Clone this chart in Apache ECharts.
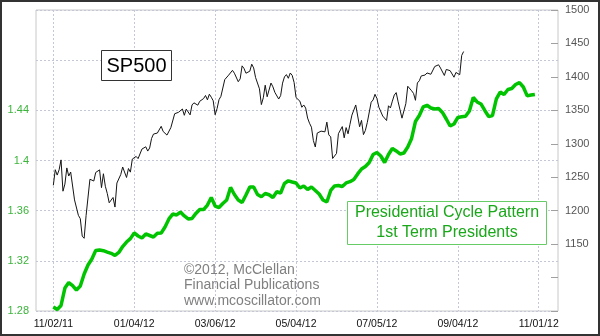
<!DOCTYPE html>
<html>
<head>
<meta charset="utf-8">
<script src="https://cdn.jsdelivr.net/npm/echarts@6/dist/echarts.min.js"></script>
<style>
  html, body { margin: 0; padding: 0; background: #fff; }
  #chart { width: 600px; height: 336px; }
</style>
</head>
<body>
<div id="chart"></div>
<script>
// Date labels shown along the bottom, one every 42 trading days from 11/02/11
const tickLabels = ['11/02/11', '01/04/12', '03/06/12', '05/04/12', '07/05/12', '09/04/12', '11/01/12'];
const labelStep = 42;
// Trading-day slots covered by the plot (day 0 = 11/02/11)
const firstSlot = -9;
const lastSlot = 262;

// S&P 500 daily closes, starting 11/02/11
const sp500Close = [
  1237.9, 1261.2, 1253.2, 1261.1, 1275.9, 1229.1, 1239.7, 1263.9, 1251.8, 1257.8,
  1236.9, 1216.1, 1215.7, 1193.0, 1188.0, 1161.8, 1158.7, 1192.6, 1195.2, 1247.0,
  1244.6, 1244.3, 1257.1, 1258.5, 1261.0, 1234.4, 1255.2, 1236.5, 1225.7, 1211.8,
  1215.8, 1219.7, 1205.4, 1241.3, 1243.7, 1254.0, 1265.3, 1265.4, 1249.6, 1263.0,
  1257.6, 1277.1, 1277.3, 1281.1, 1277.8, 1280.7, 1292.1, 1292.5, 1295.5, 1289.1,
  1293.7, 1308.0, 1314.5, 1315.4, 1316.0, 1314.7, 1326.1, 1318.4, 1316.3, 1313.0,
  1312.4, 1324.1, 1325.5, 1344.9, 1344.3, 1347.1, 1350.0, 1352.0, 1342.6, 1351.8,
  1350.5, 1343.2, 1358.0, 1361.2, 1362.2, 1357.7, 1363.5, 1365.7, 1367.6, 1372.2,
  1365.7, 1374.1, 1369.6, 1364.3, 1343.4, 1352.6, 1365.9, 1370.9, 1371.1, 1396.0,
  1394.3, 1402.6, 1404.2, 1409.8, 1405.5, 1402.9, 1392.8, 1397.1, 1416.5, 1412.5,
  1405.5, 1403.3, 1408.5, 1419.0, 1413.4, 1399.0, 1398.1, 1382.2, 1358.6, 1368.7,
  1387.6, 1370.3, 1369.6, 1390.8, 1385.1, 1376.9, 1378.5, 1366.9, 1372.0, 1390.7,
  1400.0, 1403.4, 1397.9, 1405.8, 1402.3, 1391.6, 1369.1, 1369.6, 1363.7, 1354.6,
  1358.0, 1353.4, 1338.4, 1330.7, 1324.8, 1304.9, 1295.2, 1316.0, 1316.6, 1318.9,
  1320.7, 1317.8, 1332.4, 1313.3, 1310.3, 1278.0, 1278.2, 1285.5, 1315.1, 1315.0,
  1325.7, 1308.9, 1324.2, 1314.9, 1329.1, 1342.8, 1344.8, 1358.0, 1355.7, 1325.5,
  1335.0, 1313.7, 1320.0, 1331.9, 1329.0, 1362.2, 1365.5, 1374.0, 1367.6, 1354.7,
  1352.5, 1341.5, 1341.5, 1334.8, 1356.8, 1353.6, 1363.7, 1372.8, 1376.5, 1362.7,
  1350.5, 1338.3, 1337.9, 1360.0, 1386.0, 1385.3, 1379.3, 1375.3, 1365.0, 1391.0,
  1394.2, 1401.4, 1402.2, 1402.8, 1405.9, 1404.1, 1403.9, 1405.5, 1415.5, 1418.2,
  1418.1, 1413.2, 1413.5, 1402.1, 1411.1, 1410.4, 1409.3, 1410.5, 1399.5, 1406.6,
  1404.9, 1403.4, 1432.1, 1437.9
];

// Presidential cycle pattern (1st term presidents), one value every 2 trading days from day 0
const cyclePatternStep = 2;
const cyclePattern = [
  1.2832, 1.2812, 1.2844, 1.2983, 1.3027, 1.3003, 1.2967, 1.2999, 1.3095, 1.3167,
  1.3215, 1.3282, 1.3286, 1.3281, 1.3270, 1.3260, 1.3243, 1.3267, 1.3314, 1.3350,
  1.3377, 1.3422, 1.3398, 1.3382, 1.3414, 1.3402, 1.3390, 1.3420, 1.3422, 1.3470,
  1.3534, 1.3573, 1.3566, 1.3589, 1.3558, 1.3534, 1.3538, 1.3578, 1.3609, 1.3609,
  1.3645, 1.3705, 1.3637, 1.3625, 1.3657, 1.3685, 1.3785, 1.3729, 1.3685, 1.3665,
  1.3725, 1.3789, 1.3789, 1.3729, 1.3711, 1.3737, 1.3727, 1.3705, 1.3751, 1.3741,
  1.3817, 1.3838, 1.3829, 1.3821, 1.3781, 1.3797, 1.3769, 1.3789, 1.3761, 1.3733,
  1.3685, 1.3669, 1.3761, 1.3797, 1.3801, 1.3793, 1.3821, 1.3831, 1.3849, 1.3893,
  1.3932, 1.3952, 1.3984, 1.4048, 1.4064, 1.4036, 1.3984, 1.4048, 1.4096, 1.4076,
  1.4052, 1.4060, 1.4108, 1.4176, 1.4311, 1.4359, 1.4427, 1.4440, 1.4419, 1.4411,
  1.4415, 1.4383, 1.4331, 1.4275, 1.4291, 1.4343, 1.4349, 1.4353, 1.4395, 1.4503,
  1.4467, 1.4451, 1.4399, 1.4351, 1.4359, 1.4491, 1.4546, 1.4526, 1.4566, 1.4574,
  1.4606, 1.4621, 1.4586, 1.4515, 1.4522, 1.4527
];

const FONT = "'Liberation Sans', Arial, sans-serif";

const slots = [];
for (let d = firstSlot; d <= lastSlot; d++) slots.push(String(d));

const spData = slots.map(s => {
  const d = +s;
  return d >= 0 && d < sp500Close.length ? sp500Close[d] : null;
});
const patternData = slots.map(s => {
  const d = +s;
  if (d < 0 || d % cyclePatternStep !== 0) return null;
  const k = d / cyclePatternStep;
  return k < cyclePattern.length ? cyclePattern[k] : null;
});

const isLabelDay = (idx, val) => {
  const d = +val;
  return d >= 0 && d % labelStep === 0 && d / labelStep < tickLabels.length;
};

const chart = echarts.init(document.getElementById('chart'), null, { renderer: 'canvas' });

chart.setOption({
  animation: false,
  backgroundColor: '#ffffff',
  textStyle: { fontFamily: FONT },
  grid: {
    left: 36, right: 42, top: 10, bottom: 25,
    show: true,
    borderColor: '#c8c8c8',
    borderWidth: 1,
    backgroundColor: '#ffffff'
  },
  xAxis: {
    type: 'category',
    data: slots,
    boundaryGap: false,
    axisLine: { show: false },
    axisTick: { show: false },
    axisLabel: {
      interval: isLabelDay,
      formatter: v => tickLabels[(+v) / labelStep],
      color: '#111',
      fontSize: 10.5,
      fontFamily: FONT,
      margin: 8
    },
    splitLine: {
      show: true,
      interval: isLabelDay,
      lineStyle: { color: '#c4c8d6', type: [2, 2], width: 1 }
    }
  },
  yAxis: [
    {
      type: 'value',
      position: 'left',
      min: 1.28,
      max: 1.52,
      interval: 0.04,
      axisLine: { show: false },
      axisTick: { show: false },
      axisLabel: {
        color: '#3cb43c',
        fontSize: 11,
        fontFamily: FONT,
        margin: 7,
        formatter: v => (v > 1.45 ? '' : String(+v.toFixed(2)))
      },
      splitLine: {
        show: true,
        lineStyle: { color: '#c4c8d6', type: [2, 2], width: 1 }
      }
    },
    {
      type: 'value',
      position: 'right',
      min: 1050,
      max: 1500,
      interval: 50,
      axisLine: { show: false },
      axisTick: {
        show: true,
        inside: true,
        length: 7,
        lineStyle: { color: '#a0a0a0' }
      },
      axisLabel: {
        color: '#555',
        fontSize: 11,
        fontFamily: FONT,
        margin: 7,
        formatter: v => (v >= 1150 ? String(v) : '')
      },
      splitLine: { show: false }
    }
  ],
  series: [
    {
      name: 'SP500',
      type: 'line',
      yAxisIndex: 1,
      data: spData,
      showSymbol: false,
      connectNulls: false,
      lineStyle: { color: '#151515', width: 1 },
      z: 3
    },
    {
      name: 'Presidential Cycle Pattern',
      type: 'line',
      yAxisIndex: 0,
      data: patternData,
      showSymbol: false,
      connectNulls: true,
      lineStyle: { color: '#00c400', width: 3.5 },
      z: 4
    }
  ],
  graphic: [
    // SP500 caption box
    {
      type: 'rect',
      shape: { x: 101.5, y: 50.5, width: 70, height: 30 },
      style: { fill: '#ffffff', stroke: '#333', lineWidth: 1 },
      z: 10
    },
    {
      type: 'text',
      x: 136.5, y: 66,
      style: {
        text: 'SP500', font: "20px " + FONT, fill: '#000',
        align: 'center', verticalAlign: 'middle'
      },
      z: 11
    },
    // Pattern caption box
    {
      type: 'rect',
      shape: { x: 347.5, y: 201.5, width: 199, height: 43 },
      style: { fill: '#ffffff', stroke: '#66cc66', lineWidth: 1 },
      z: 10
    },
    {
      type: 'text',
      x: 447, y: 213,
      style: {
        text: 'Presidential Cycle Pattern', font: "16px " + FONT, fill: '#1aa81a',
        align: 'center', verticalAlign: 'middle'
      },
      z: 11
    },
    {
      type: 'text',
      x: 447, y: 233,
      style: {
        text: '1st Term Presidents', font: "16px " + FONT, fill: '#1aa81a',
        align: 'center', verticalAlign: 'middle'
      },
      z: 11
    },
    // Copyright block
    {
      type: 'text',
      x: 184, y: 270,
      style: {
        text: '©2012, McClellan', font: "14px " + FONT, fill: '#808080',
        align: 'left', verticalAlign: 'middle'
      },
      z: 9
    },
    {
      type: 'text',
      x: 184, y: 285.5,
      style: {
        text: 'Financial Publications', font: "14px " + FONT, fill: '#808080',
        align: 'left', verticalAlign: 'middle'
      },
      z: 9
    },
    {
      type: 'text',
      x: 184, y: 301,
      style: {
        text: 'www.mcoscillator.com', font: "14px " + FONT, fill: '#808080',
        align: 'left', verticalAlign: 'middle'
      },
      z: 9
    },
    // Outer frame
    {
      type: 'rect',
      shape: { x: 1, y: 1, width: 598, height: 334 },
      style: { fill: 'none', stroke: '#333', lineWidth: 2 },
      z: 20
    }
  ]
});
</script>
</body>
</html>
